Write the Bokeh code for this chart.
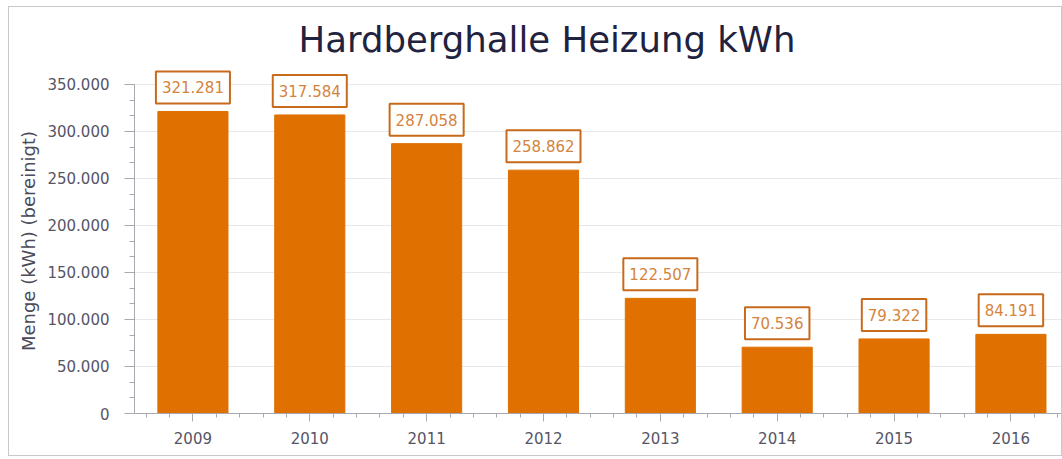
from bokeh.plotting import figure
from bokeh.models import (ColumnDataSource, Label, Range1d, FixedTicker,
                          SingleIntervalTicker, CustomJSTickFormatter, Title)
from bokeh.embed import file_html
from bokeh.resources import INLINE

years = [2009, 2010, 2011, 2012, 2013, 2014, 2015, 2016]
values = [321281, 317584, 287058, 258862, 122507, 70536, 79322, 84191]
labels = ["321.281", "317.584", "287.058", "258.862", "122.507", "70.536", "79.322", "84.191"]

FONT = "DejaVu Sans"
BAR = "#E07000"

src = ColumnDataSource(dict(x=years, y=values, t=labels))

p = figure(width=1054, height=450, output_backend="svg", toolbar_location=None,
           x_range=Range1d(2008.5, 2016.45), y_range=Range1d(0, 367000),
           min_border_left=125, min_border_right=0, min_border_bottom=44,
           min_border_top=60)
p.styles = {"border": "1px solid #c8c8cc", "box-sizing": "border-box",
            "margin-left": "8px", "margin-top": "6px"}
p.outline_line_color = None
p.background_fill_color = "white"
p.border_fill_color = "white"

t = Title(text="Hardberghalle Heizung kWh", align="left", offset=164,
          text_font=FONT, text_font_size="35.5px", text_font_style="normal",
          text_color="#1f2340", standoff=18)
p.add_layout(t, "above")

p.vbar(x="x", top="y", width=0.6, source=src, fill_color=BAR, line_color=BAR)

for xv, yv, tv in zip(years, values, labels):
    p.add_layout(Label(x=xv, y=yv, text=tv, text_align="center",
                       text_baseline="bottom", y_offset=8, text_font=FONT,
                       text_font_size="15px", text_color="#D4843C",
                       background_fill_color="white", border_line_color="#C86A1C",
                       border_line_width=2,
                       padding=dict(left=6, right=6, top=10, bottom=10)))

minor = [y + d for y in years for d in (-0.4, -0.2, 0.2, 0.4)]
p.xaxis.ticker = FixedTicker(ticks=years, minor_ticks=minor)
p.yaxis.ticker = SingleIntervalTicker(interval=50000, num_minor_ticks=3)
p.yaxis.bounds = (0, 350000)
p.yaxis.formatter = CustomJSTickFormatter(code="""
    return String(Math.round(tick)).replace(/\\B(?=(\\d{3})+(?!\\d))/g, '.');
""")

for ax in (p.xaxis, p.yaxis):
    ax.axis_line_color = "#a8a8b0"
    ax.major_tick_line_color = "#a8a8b0"
    ax.minor_tick_line_color = "#a8a8b0"
    ax.major_label_text_font = FONT
    ax.major_label_text_font_size = "15px"
    ax.major_label_text_color = "#555566"
    ax.major_tick_in = 0
    ax.minor_tick_in = 0

p.yaxis.major_tick_out = 10
p.yaxis.minor_tick_out = 5
p.xaxis.major_tick_out = 8
p.xaxis.minor_tick_out = 4
p.yaxis.major_label_standoff = 15
p.xaxis.major_label_standoff = 10

p.yaxis.axis_label = "Menge (kWh) (bereinigt)"
p.yaxis.axis_label_text_font = FONT
p.yaxis.axis_label_text_font_size = "18px"
p.yaxis.axis_label_text_font_style = "normal"
p.yaxis.axis_label_text_color = "#4a4a5a"
p.yaxis.axis_label_standoff = 5

p.xgrid.grid_line_color = None
p.ygrid.grid_line_color = "#e8e8ea"
p.ygrid.ticker = SingleIntervalTicker(interval=50000)
p.ygrid.bounds = (0, 350000)

open("out.html", "w").write(file_html(p, INLINE))
